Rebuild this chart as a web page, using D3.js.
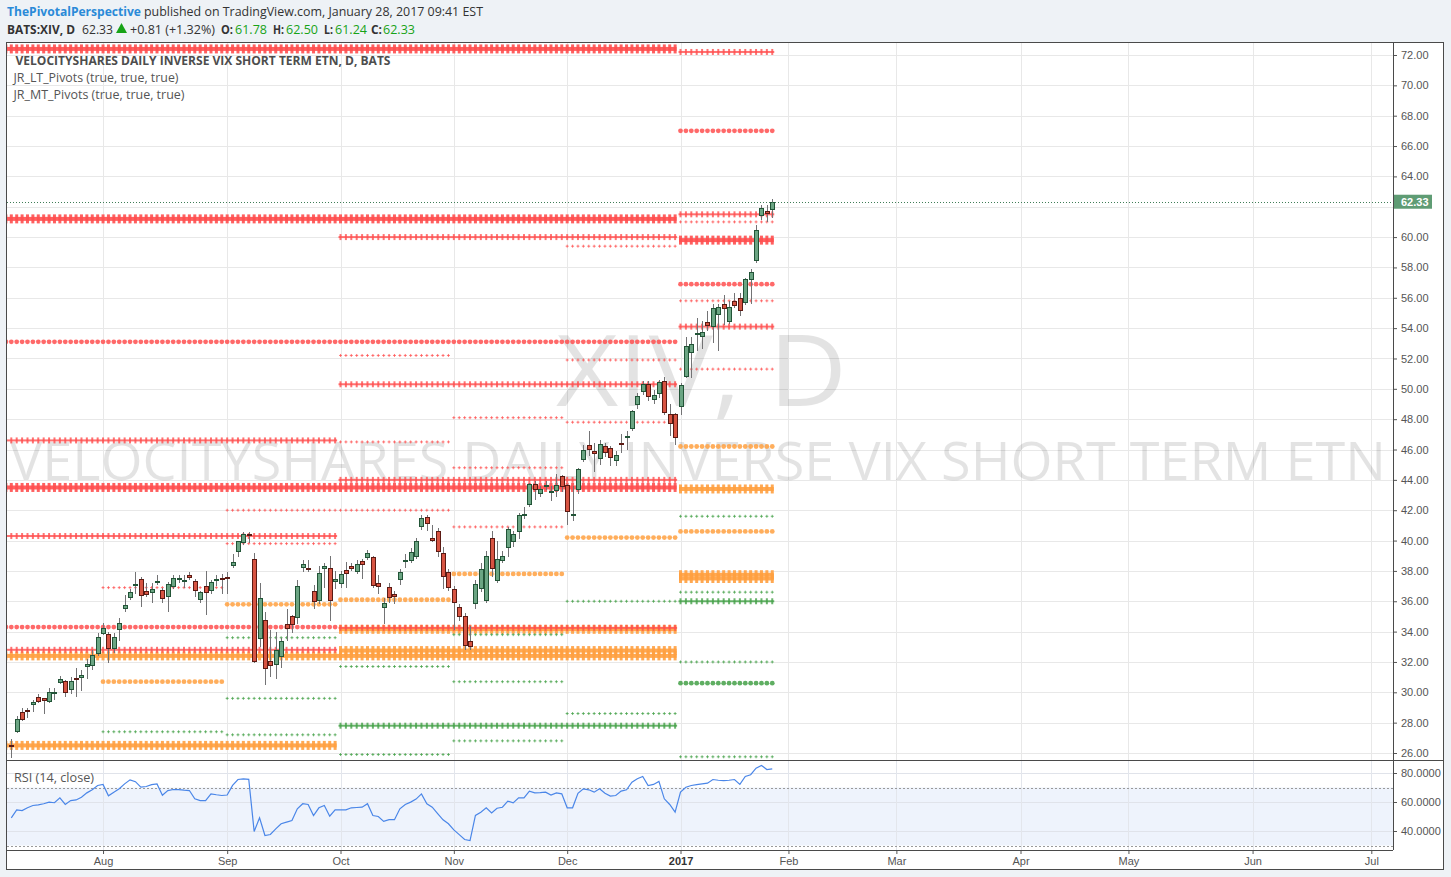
<!DOCTYPE html>
<html>
<head>
<meta charset="utf-8">
<script src="https://cdn.jsdelivr.net/npm/d3@7/dist/d3.min.js"></script>
<style>
  body { margin: 0; background: #eef2f6; }
  svg text { font-family: "Open Sans", sans-serif; }
  .axis text { font-family: "Liberation Sans", Arial, sans-serif; font-size: 11px; fill: #555; }
</style>
</head>
<body>
<svg id="chart" width="1451" height="877"></svg>
<script>
// daily bars, 7 Jul 2016 -> 27 Jan 2017 (index = trading day)
const opens = [26.55,27.38,28.68,28.86,29.14,29.67,29.6,29.32,29.96,30.6,30.73,30.17,30.92,30.9,31.63,31.68,32.5,33.86,33.84,32.8,
  34.14,35.45,36.24,37.12,37.45,36.7,36.53,37.25,36.72,36.26,36.92,37.35,37.34,37.73,37.36,36.04,36.99,36.66,37.38,37.53,
  37.6,38.35,39.2,39.86,40.45,38.77,33.5,34.75,32.04,31.8,32.3,34.5,35.0,34.89,38.17,38.18,36.66,35.98,38.15,38.17,
  37.23,37.12,38.06,38.32,37.95,38.63,38.8,38.9,37.18,35.54,36.92,36.47,37.38,38.7,38.61,38.94,40.9,41.54,40.15,40.62,
  39.16,37.93,36.79,35.6,35.0,33.38,35.8,36.8,36.04,40.15,37.38,38.65,39.5,39.89,40.55,41.68,42.32,43.76,43.05,43.51,
  43.24,43.27,44.23,43.64,41.7,43.31,45.35,46.27,45.87,45.35,46.25,46.08,45.2,46.4,46.88,47.38,48.93,49.77,50.3,49.22,
  49.61,50.54,48.36,48.32,48.8,50.78,52.36,53.54,53.41,54.38,54.06,54.85,55.57,54.43,55.79,55.97,55.64,57.16,58.41,61.35,
  61.7,61.78];
const highs = [26.9,28.44,28.95,28.98,29.5,29.9,29.65,30.3,30.3,31.1,30.8,31.0,31.6,31.5,32.2,32.8,33.9,34.6,34.0,33.9,
  34.9,36.4,36.8,37.9,37.6,37.2,37.2,37.7,36.9,37.3,37.7,37.7,37.7,37.9,37.5,36.7,38.0,37.4,37.7,37.8,
  37.9,39.1,40.0,40.55,40.55,39.2,37.2,35.3,34.1,34.0,33.6,35.5,35.1,37.4,38.7,38.7,37.1,38.3,38.5,39.0,
  38.0,38.0,38.6,38.5,38.7,38.8,39.4,39.0,37.7,36.2,37.2,36.7,38.1,39.1,39.5,40.2,41.7,41.7,41.0,40.8,
  39.6,38.1,37.0,35.8,35.2,34.4,37.4,38.5,39.3,40.65,40.0,39.3,40.9,40.6,41.8,42.2,43.8,43.9,43.6,43.9,
  43.6,44.4,44.3,43.7,43.6,44.8,46.3,47.2,46.4,46.6,46.4,46.2,45.9,47.0,47.2,48.6,49.7,50.5,50.5,49.9,
  50.6,50.75,49.0,48.4,50.4,53.4,53.4,54.7,54.5,55.1,55.6,55.6,56.2,55.8,56.3,56.3,57.3,57.9,60.8,62.1,
  62.1,62.5];
const lows = [25.7,27.3,28.1,28.3,28.7,29.3,28.6,29.3,29.5,30.55,29.7,29.9,29.7,30.1,30.9,31.5,32.4,33.8,31.9,32.6,
  33.4,35.3,36.1,36.5,35.6,36.3,35.9,37.1,35.9,35.3,36.8,37.2,36.9,37.4,36.3,35.9,35.1,36.5,37.0,36.5,
  36.5,38.2,38.9,39.7,39.85,31.9,33.0,30.5,31.0,30.9,31.6,33.4,33.9,34.5,37.9,37.9,35.5,35.8,36.9,34.7,
  36.8,36.9,36.9,38.0,37.8,37.5,38.7,36.9,36.5,34.5,35.9,35.8,37.1,38.2,38.5,38.8,40.7,40.6,39.9,38.9,
  36.8,36.7,34.1,34.7,32.8,32.8,35.5,36.6,35.9,37.6,37.2,38.5,38.9,39.6,40.1,41.4,42.2,42.7,42.9,43.3,
  42.6,42.9,43.2,41.0,41.3,43.1,45.2,45.6,44.5,45.0,45.5,44.9,44.9,45.8,46.0,47.2,48.7,49.6,49.2,49.0,
  49.4,48.3,46.9,46.3,48.3,50.7,50.7,52.5,52.6,53.8,53.0,52.5,54.2,54.3,55.3,54.8,55.5,55.6,58.3,61.1,
  61.0,61.24];
const closes = [26.45,28.22,28.15,28.8,29.34,29.32,29.4,30.0,30.0,30.88,29.94,30.75,30.88,31.12,31.85,32.43,33.62,34.23,32.83,33.62,
  34.57,35.73,36.61,37.16,36.33,36.43,36.79,37.36,36.13,37.12,37.51,37.51,37.38,37.51,36.72,36.59,36.53,37.25,37.45,37.38,
  37.56,38.59,39.95,40.43,40.38,32.0,36.2,31.5,31.73,32.8,33.36,34.2,34.4,36.99,38.44,38.12,35.91,37.84,38.35,36.0,
  37.45,37.8,37.78,38.15,38.45,38.37,39.16,37.0,36.92,35.87,36.2,36.3,37.9,38.74,39.22,40.0,41.51,41.07,39.95,39.26,
  37.58,36.9,35.87,34.94,33.0,32.97,37.12,38.1,39.0,38.13,38.8,39.0,40.74,40.41,41.67,41.73,43.71,43.38,43.38,43.64,
  43.28,43.64,43.51,41.86,41.75,44.72,46.0,45.94,45.7,46.35,45.79,45.39,45.62,46.27,46.92,48.54,49.5,50.32,49.44,49.57,
  50.43,48.43,47.7,46.74,50.25,52.82,52.97,53.65,53.76,54.1,55.33,55.39,55.24,55.39,55.48,55.11,57.22,57.7,60.45,61.9,
  61.5,62.33];

const rsi = [49.1,54.6,54.1,56.0,57.6,58.0,58.8,59.9,59.5,62.9,58.3,61.0,61.4,63.3,66.3,68.4,71.4,72.1,64.3,66.8,
  69.1,72.5,75.3,74.0,70.2,70.7,72.0,72.5,64.7,67.9,68.6,68.6,68.2,67.9,62.2,61.0,61.0,65.6,65.0,64.5,
  64.8,71.4,75.5,76.0,75.6,39.7,49.1,36.9,37.6,41.5,45.0,46.1,47.2,55.3,58.8,58.3,50.7,56.0,57.6,50.2,
  54.6,54.6,54.6,56.0,56.2,56.4,58.8,50.7,50.0,46.6,47.8,47.8,55.3,58.3,59.9,62.0,65.6,58.8,56.4,52.0,
  47.7,45.0,40.8,37.5,34.1,33.4,50.7,53.0,56.0,52.5,55.7,56.4,60.6,59.4,62.9,62.9,67.5,66.3,66.5,66.8,
  64.8,66.3,65.6,56.0,56.0,66.0,69.1,68.4,66.8,69.1,66.0,64.1,64.5,67.5,68.4,73.7,76.0,77.6,71.4,72.1,
  74.2,62.2,58.3,53.0,66.8,70.2,71.4,72.0,72.5,73.0,75.5,75.0,74.8,75.0,75.5,72.1,77.6,78.8,83.3,85.2,
  82.4,82.9];

// time axis: bar index where each month starts (future months continue on weekdays)
const monthTicks = [17, 40, 61, 82, 103, 124, 144, 164, 187, 207, 230, 252];
const monthLabels = ["Aug", "Sep", "Oct", "Nov", "Dec", "2017", "Feb", "Mar", "Apr", "May", "Jun", "Jul"];

// pivot periods as bar index ranges
const periods = {
  Y2016: [-1, 123], Y2017: [124, 141],
  Q3: [-1, 60], Q4: [61, 123], Q1: [124, 141],
  Aug: [17, 39], Sep: [40, 60], Oct: [61, 81], Nov: [82, 102], Dec: [103, 123], Jan: [124, 141]
};

// [price, period, marker]
const resistance = [
  [72.4, "Y2016", "heavy"], [72.2, "Y2017", "cross"], [67.0, "Jan", "dot"],
  [61.2, "Y2016", "heavy"], [61.5, "Jan", "cross"], [61.0, "Jan", "tick"],
  [60.0, "Q4", "cross"], [59.4, "Dec", "tick"], [59.8, "Y2017", "heavy"],
  [56.9, "Jan", "dot"], [55.8, "Jan", "tick"], [54.1, "Q1", "cross"],
  [53.1, "Y2016", "dot"], [52.2, "Oct", "tick"], [51.9, "Dec", "tick"], [51.3, "Jan", "tick"],
  [50.3, "Q4", "cross"], [48.1, "Nov", "tick"], [47.8, "Dec", "tick"],
  [46.6, "Q3", "cross"], [46.5, "Oct", "tick"], [44.8, "Nov", "tick"],
  [44.0, "Q4", "cross"], [43.5, "Y2016", "heavy"],
  [42.0, "Sep", "tick"], [42.0, "Oct", "tick"], [40.9, "Nov", "tick"],
  [40.3, "Q3", "cross"], [39.8, "Sep", "tick"], [36.9, "Aug", "tick"],
  [34.3, "Q3", "dot"], [34.25, "Q4", "cross"], [32.8, "Q3", "cross"]
];
const pivotLevels = [
  [46.2, "Jan", "dot"], [43.4, "Jan", "heavy"], [40.6, "Jan", "dot"], [40.2, "Dec", "dot"],
  [37.8, "Nov", "dot"], [37.75, "Y2017", "heavy"], [37.5, "Q1", "heavy"], [36.1, "Oct", "dot"],
  [35.8, "Sep", "dot"], [34.15, "Q4", "heavy"], [32.75, "Q4", "heavy"], [32.4, "Y2016", "heavy"],
  [30.7, "Aug", "dot"], [26.5, "Q3", "heavy"]
];
const support = [
  [41.6, "Jan", "tick"], [36.6, "Jan", "tick"], [36.0, "Jan", "cross"], [36.0, "Dec", "tick"],
  [33.6, "Sep", "tick"], [33.8, "Nov", "tick"], [32.0, "Jan", "tick"], [31.7, "Oct", "tick"],
  [30.6, "Jan", "dot"], [30.7, "Nov", "tick"], [29.6, "Sep", "tick"], [28.6, "Dec", "tick"],
  [27.8, "Q4", "cross"], [27.4, "Aug", "tick"], [27.2, "Sep", "tick"], [26.8, "Nov", "tick"],
  [25.9, "Oct", "tick"], [25.75, "Jan", "tick"]
];

const lastPrice = 62.33;

const svg = d3.select("#chart");
const plot = { left: 7, right: 1393, top: 43, bottom: 760 };
const rsiBox = { top: 760, bottom: 850 };
const outerRight = 1444, outerBottom = 870;

const x = d3.scaleLinear().domain([0, 252]).range([11.3, 1371.3]);
const y = d3.scaleLinear().domain([26, 72]).range([753, 55]);
const yr = d3.scaleLinear().domain([40, 80]).range([831, 773]);

// chart frame background
svg.append("rect").attr("x", plot.left).attr("y", plot.top)
  .attr("width", outerRight - plot.left).attr("height", outerBottom - plot.top)
  .attr("fill", "#fff");

const defs = svg.append("defs");
defs.append("clipPath").attr("id", "clipMain").append("rect")
  .attr("x", plot.left).attr("y", plot.top)
  .attr("width", plot.right - plot.left).attr("height", plot.bottom - plot.top);
defs.append("clipPath").attr("id", "clipRsi").append("rect")
  .attr("x", plot.left).attr("y", rsiBox.top)
  .attr("width", plot.right - plot.left).attr("height", rsiBox.bottom - rsiBox.top);

// grid
const grid = svg.append("g").attr("stroke", "#e8e8e8").attr("shape-rendering", "crispEdges");
const priceTicks = d3.range(26, 73, 2);
grid.selectAll(".hg").data(priceTicks).join("line")
  .attr("x1", plot.left).attr("x2", plot.right)
  .attr("y1", d => Math.round(y(d)) + 0.5).attr("y2", d => Math.round(y(d)) + 0.5);
grid.selectAll(".vg").data(monthTicks).join("line")
  .attr("x1", d => Math.round(x(d)) + 0.5).attr("x2", d => Math.round(x(d)) + 0.5)
  .attr("y1", plot.top).attr("y2", rsiBox.bottom);

// watermark (sits fully inside the pane, no clipping needed)
const wm = svg.append("g").attr("fill", "#000").attr("fill-opacity", 0.11)
  .style("font-family", "Liberation Sans, Arial, sans-serif");
wm.append("text").text("XIV, D")
  .attr("x", 556).attr("y", 406).attr("textLength", 291).attr("lengthAdjust", "spacingAndGlyphs")
  .style("font-size", "98px");
wm.append("text").text("VELOCITYSHARES DAILY INVERSE VIX SHORT TERM ETN")
  .attr("x", 10).attr("y", 480).attr("textLength", 1376).attr("lengthAdjust", "spacingAndGlyphs")
  .style("font-size", "53px");

const main = svg.append("g").attr("clip-path", "url(#clipMain)");

// pivot lines
const levelColor = { R: "#ff4f4f", P: "#ffa040", S: "#43a047" };

function drawPivot(g, row, col) {
  const [price, period, marker] = row;
  const [a, b] = periods[period];
  const idx = d3.range(a, b + 1);
  const yy = y(price);
  const line = g.append("g").attr("fill", col);
  if (marker === "heavy") {
    line.attr("fill-opacity", 0.9);
    line.append("rect").attr("x", x(a) - 1.5).attr("width", x(b) - x(a) + 3)
      .attr("y", yy - 2).attr("height", 4);
    line.selectAll("rect.m").data(idx).join("rect").attr("class", "m")
      .attr("x", i => x(i) - 1.5).attr("width", 3)
      .attr("y", yy - 4.5).attr("height", 9);
  } else if (marker === "cross") {
    line.attr("fill-opacity", 0.8);
    line.append("rect").attr("x", x(a) - 2).attr("width", x(b) - x(a) + 4)
      .attr("y", yy - 1).attr("height", 2);
    line.selectAll("rect.m").data(idx).join("rect").attr("class", "m")
      .attr("x", i => x(i) - 1).attr("width", 2)
      .attr("y", yy - 3).attr("height", 6);
  } else if (marker === "dot") {
    line.attr("fill-opacity", 0.85);
    line.selectAll("circle").data(idx).join("circle")
      .attr("cx", i => x(i)).attr("cy", yy).attr("r", 2.4);
  } else {
    line.attr("fill-opacity", 0.75);
    line.selectAll("rect.h").data(idx).join("rect").attr("class", "h")
      .attr("x", i => x(i) - 1.5).attr("width", 3)
      .attr("y", yy - 0.5).attr("height", 1);
    line.selectAll("rect.v").data(idx).join("rect").attr("class", "v")
      .attr("x", i => x(i) - 0.5).attr("width", 1)
      .attr("y", yy - 1.5).attr("height", 3);
  }
}
const pivG = main.append("g");
pivotLevels.forEach(r => drawPivot(pivG, r, levelColor.P));
resistance.forEach(r => drawPivot(pivG, r, levelColor.R));
support.forEach(r => drawPivot(pivG, r, levelColor.S));

// candles
const bars = opens.map((o, i) => ({ i, o, h: highs[i], l: lows[i], c: closes[i] }));
const cx = i => Math.round(x(i));
main.append("g").attr("stroke", "#737375").attr("shape-rendering", "crispEdges")
  .selectAll("line").data(bars).join("line")
  .attr("x1", d => cx(d.i) + 0.5).attr("x2", d => cx(d.i) + 0.5)
  .attr("y1", d => y(d.h)).attr("y2", d => y(d.l));
main.append("g").attr("shape-rendering", "crispEdges")
  .selectAll("rect").data(bars).join("rect")
  .attr("x", d => cx(d.i) - 1.5)
  .attr("width", 4)
  .attr("y", d => Math.round(y(Math.max(d.o, d.c))) + 0.5)
  .attr("height", d => Math.max(1, Math.round(Math.abs(y(d.o) - y(d.c))) - 1))
  .attr("fill", d => d.c >= d.o ? "#6ba583" : "#d75442")
  .attr("stroke", d => d.c >= d.o ? "#225437" : "#5b1a13");

// last price line
main.append("line")
  .attr("x1", plot.left).attr("x2", plot.right)
  .attr("y1", Math.round(y(lastPrice)) + 0.5).attr("y2", Math.round(y(lastPrice)) + 0.5)
  .attr("stroke", "#3f7d57").attr("stroke-dasharray", "1,2");

// RSI pane
const rsiG = svg.append("g").attr("clip-path", "url(#clipRsi)");
rsiG.append("rect").attr("x", plot.left).attr("width", plot.right - plot.left)
  .attr("y", yr(70)).attr("height", yr(30) - yr(70)).attr("fill", "#eef3fc");
rsiG.selectAll(".rg").data([40, 60, 80]).join("line")
  .attr("x1", plot.left).attr("x2", plot.right)
  .attr("y1", d => Math.round(yr(d)) + 0.5).attr("y2", d => Math.round(yr(d)) + 0.5)
  .attr("stroke", "#e0e3ea");
rsiG.selectAll(".vg2").data(monthTicks).join("line")
  .attr("x1", d => Math.round(x(d)) + 0.5).attr("x2", d => Math.round(x(d)) + 0.5)
  .attr("y1", rsiBox.top).attr("y2", rsiBox.bottom).attr("stroke", "#e3e6ec");
rsiG.selectAll(".band").data([70, 30]).join("line")
  .attr("x1", plot.left).attr("x2", plot.right)
  .attr("y1", d => Math.round(yr(d)) + 0.5).attr("y2", d => Math.round(yr(d)) + 0.5)
  .attr("stroke", "#9a9a9a").attr("stroke-dasharray", "2,2");
rsiG.append("path").datum(rsi)
  .attr("fill", "none").attr("stroke", "#4a86e8").attr("stroke-width", 1.2)
  .attr("d", d3.line().x((d, i) => x(i)).y(d => yr(d)));
svg.append("text").text("RSI (14, close)")
  .attr("x", 14).attr("y", 782).attr("fill", "#555").style("font-size", "12px")
  .attr("textLength", 80).attr("lengthAdjust", "spacingAndGlyphs");

// axes (the 62.00 label sits under the last-price badge, as in the original)
const yAxis = svg.append("g").attr("class", "axis")
  .attr("transform", `translate(${plot.right},0)`)
  .call(d3.axisRight(y).tickValues(priceTicks)
    .tickFormat(d => Math.abs(y(d) - y(lastPrice)) < 12 ? "" : d3.format(".2f")(d))
    .tickSize(4).tickPadding(4));
const rAxis = svg.append("g").attr("class", "axis")
  .attr("transform", `translate(${plot.right},0)`)
  .call(d3.axisRight(yr).tickValues([40, 60, 80]).tickFormat(d3.format(".4f")).tickSize(4).tickPadding(4));
const xAxis = svg.append("g").attr("class", "axis")
  .attr("transform", `translate(0,${rsiBox.bottom})`)
  .call(d3.axisBottom(x).tickValues(monthTicks).tickFormat((d, i) => monthLabels[i]).tickSize(4).tickPadding(3));
[yAxis, rAxis, xAxis].forEach(a => {
  a.select(".domain").remove();
  a.selectAll(".tick line").attr("stroke", "#555");
});
xAxis.selectAll(".tick text").filter(d => d === 124).style("font-weight", "bold").style("fill", "#333");

// last price label
const lp = svg.append("g").attr("transform", `translate(${plot.right + 1},${y(lastPrice)})`);
lp.append("rect").attr("x", 0).attr("y", -7).attr("width", 38).attr("height", 14).attr("fill", "#5f9c74");
lp.append("text").text(d3.format(".2f")(lastPrice)).attr("x", 7).attr("y", 4)
  .attr("fill", "#fff").style("font-family", "Liberation Sans, Arial, sans-serif")
  .style("font-size", "11px").style("font-weight", "bold");

// frame lines
const frame = svg.append("g").attr("stroke", "#4a4a4a").attr("shape-rendering", "crispEdges").attr("fill", "none");
frame.append("rect").attr("x", plot.left - 0.5).attr("y", plot.top - 0.5)
  .attr("width", outerRight - plot.left).attr("height", outerBottom - plot.top);
frame.append("line").attr("x1", plot.right + 0.5).attr("x2", plot.right + 0.5).attr("y1", plot.top).attr("y2", rsiBox.bottom);
frame.append("line").attr("x1", plot.left).attr("x2", outerRight).attr("y1", plot.bottom + 0.5).attr("y2", plot.bottom + 0.5);
frame.append("line").attr("x1", plot.left).attr("x2", plot.right).attr("y1", rsiBox.bottom + 0.5).attr("y2", rsiBox.bottom + 0.5);

// legend inside the pane
function label(str, x0, y0, len, opts = {}) {
  return svg.append("text").text(str).attr("x", x0).attr("y", y0)
    .attr("fill", opts.fill || "#555")
    .style("font-size", (opts.size || 12) + "px")
    .style("font-weight", opts.bold ? "bold" : "normal")
    .attr("textLength", len).attr("lengthAdjust", "spacingAndGlyphs");
}
label("VELOCITYSHARES DAILY INVERSE VIX SHORT TERM ETN, D, BATS", 15.5, 65, 375, { bold: true, fill: "#4d4d4d" });
label("JR_LT_Pivots (true, true, true)", 13.5, 82, 165);
label("JR_MT_Pivots (true, true, true)", 13.5, 99, 171);

// header
const green = "#17a317";
label("ThePivotalPerspective", 7, 16, 134, { size: 13, bold: true, fill: "#2a8ad8" });
label("published on TradingView.com, January 28, 2017 09:41 EST", 144, 16, 339, { size: 13, fill: "#333" });
label("BATS:XIV, D", 7, 34, 68, { size: 13, bold: true, fill: "#333" });
label("62.33", 82, 34, 31, { size: 13, fill: "#333" });
svg.append("path").attr("d", "M116,33 L121.5,23 L127,33 Z").attr("fill", green);
label("+0.81 (+1.32%)", 130, 34, 85, { size: 13, fill: "#333" });
const ohlc = [["O:", 221, 12, "61.78", 235], ["H:", 273, 11, "62.50", 286], ["L:", 324, 9, "61.24", 335], ["C:", 371, 11, "62.33", 383]];
ohlc.forEach(([k, kx, kl, v, vx]) => {
  label(k, kx, 34, kl, { size: 13, bold: true, fill: "#333" });
  label(v, vx, 34, 32, { size: 13, fill: green });
});
</script>
</body>
</html>
